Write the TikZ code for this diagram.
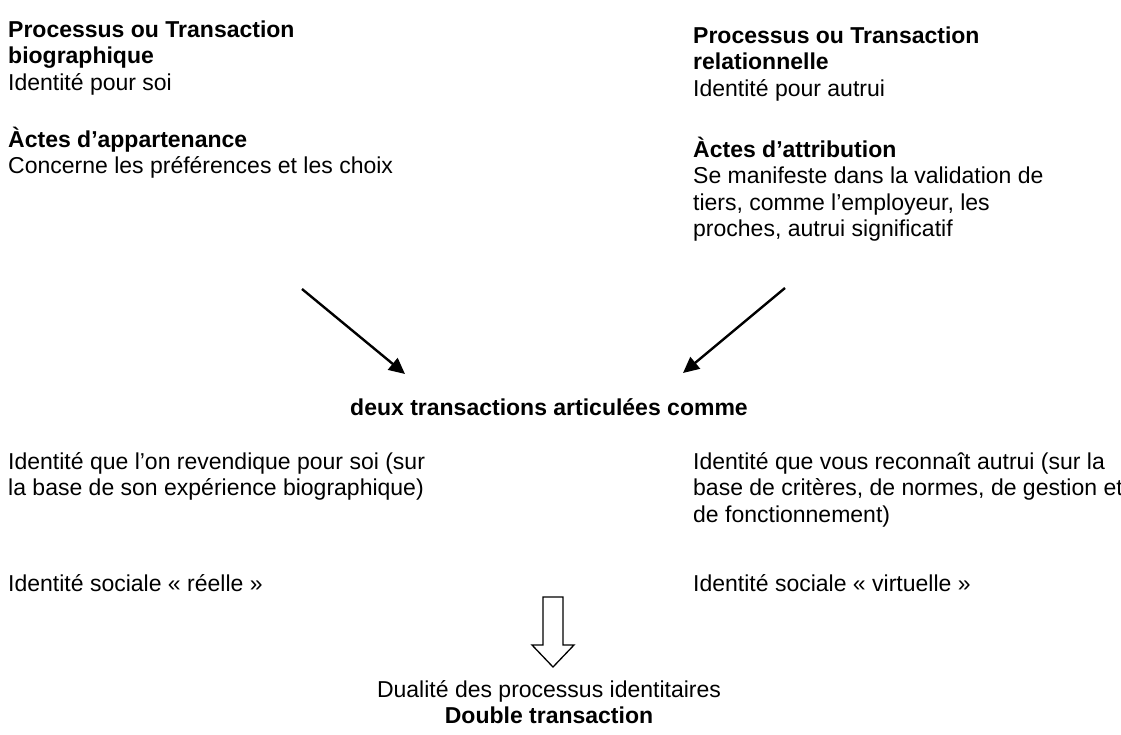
\documentclass[tikz,border=0pt]{standalone}
\usepackage{fontspec}
\setmainfont{Liberation Sans}
\usetikzlibrary{arrows.meta, positioning}

\begin{document}
\begin{tikzpicture}[x=1pt, y=-1pt,
  txt/.style={anchor=base west, inner sep=0pt, align=left,
    font=\fontsize{23}{26.5}\selectfont},
  mid/.style={anchor=base, inner sep=0pt, align=center,
    font=\fontsize{23}{26.5}\selectfont},
  slant/.style={-{Triangle[length=16pt, width=15pt]}, line width=2.4pt}]
  \useasboundingbox (0,0) rectangle (1121,734);

  % Left column (base = last line)
  \node[txt] (bio) at (8,90)
    {\textbf{Processus ou Transaction}\\\textbf{biographique}\\Identité pour soi};
  \node[txt] (appart) at (8,173.5)
    {\textbf{Àctes d’appartenance}\\Concerne les préférences et les choix};

  % Right column
  \node[txt] (rel) at (693,96)
    {\textbf{Processus ou Transaction}\\\textbf{relationnelle}\\Identité pour autrui};
  \node[txt] (attrib) at (693,236.5)
    {\textbf{Àctes d’attribution}\\Se manifeste dans la validation de\\tiers, comme l’employeur, les\\proches, autrui significatif};

  % Middle line
  \node[mid] (deux) at (549,415) {\textbf{deux transactions articulées comme}};

  % Slanted arrows
  \coordinate (lfrom) at (302,289);
  \coordinate (lto) at (405,374);
  \coordinate (rfrom) at (785,288);
  \coordinate (rto) at (683,373);
  \draw[slant] (lfrom) -- (lto);
  \draw[slant] (rfrom) -- (rto);

  % Two identities
  \node[txt] (revend) at (8,495.5)
    {Identité que l’on revendique pour soi (sur\\la base de son expérience biographique)};
  \node[txt] (reconn) at (693,522)
    {Identité que vous reconnaît autrui (sur la\\base de critères, de normes, de gestion et\\de fonctionnement)};
  \node[txt] (reelle) at (8,591) {Identité sociale « réelle »};
  \node[txt] (virt) at (693,591) {Identité sociale « virtuelle »};

  % Hollow arrow
  \coordinate (h) at (553,597);
  \draw[line width=1.3pt, line join=miter]
    (h) ++(-10,0) -- ++(20,0) -- ++(0,48) -- ++(11,0)
    -- ++(-21,22) -- ++(-21,-22) -- ++(11,0) -- cycle;

  % Conclusion
  \node[mid] (dual) at (549,723.5)
    {Dualité des processus identitaires\\\textbf{Double transaction}};
\end{tikzpicture}
\end{document}
